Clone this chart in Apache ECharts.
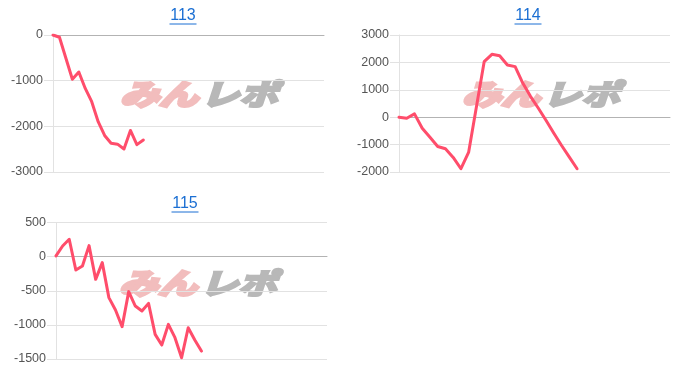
<!DOCTYPE html>
<html>
<head>
<meta charset="utf-8">
<script src="https://cdn.jsdelivr.net/npm/echarts@6/dist/echarts.min.js"></script>
<style>
html,body{margin:0;padding:0;background:#fff;}
#c{width:700px;height:376px;}
</style>
</head>
<body>
<div id="c"></div>
<script>
// chart titles
const titles = ['113', '114', '115'];
// number of x categories per chart
const catCount113 = 43;
const catCount114 = 36;
const catCount115 = 42;
// series values
const s113 = [0, -50, -510, -970, -810, -1170, -1460, -1898, -2200, -2372, -2390, -2496, -2090, -2400, -2299];
const s114 = [0, -36, 121, -400, -728, -1068, -1153, -1468, -1881, -1274, 380, 2027, 2294, 2245, 1905, 1845, 1238, 752, 328, -121, -583, -1032, -1456, -1881];
const s115 = [10, 156, 254, -196, -137, 161, -333, -88, -601, -782, -1027, -513, -724, -797, -685, -1139, -1296, -993, -1188, -1482, -1042, -1222, -1384];
// y axis ranges
const yMin = [-3000, -2000, -1500];
const yMax = [0, 3000, 500];
const yStep = [1000, 1000, 500];

function cats(n){ return Array.from({length:n}, (_, i) => String(i + 1)); }

const grids = [
  {left: 53, top: 35, width: 271, height: 137},
  {left: 399, top: 35, width: 271, height: 137},
  {left: 56, top: 222.5, width: 271, height: 136.5}
];
const allCats = [cats(catCount113), cats(catCount114), cats(catCount115)];
const allSeries = [s113, s114, s115];

const labelFont = {color: '#555', fontSize: 12.5, fontFamily: '"Liberation Sans", Arial, sans-serif'};

const xAxes = grids.map((g, i) => ({
  type: 'category', gridIndex: i, data: allCats[i], boundaryGap: false,
  axisLine: {show: true, onZero: true, lineStyle: {color: '#b3b3b3', width: 1}},
  axisTick: {show: false}, axisLabel: {show: false}, splitLine: {show: false}
}));
const yAxes = grids.map((g, i) => ({
  type: 'value', gridIndex: i, min: yMin[i], max: yMax[i], interval: yStep[i],
  axisLine: {show: true, lineStyle: {color: '#e2e2e2'}},
  axisTick: {show: true, length: 9, lineStyle: {color: '#e2e2e2'}},
  axisLabel: Object.assign({margin: 10, formatter: v => String(v)}, labelFont),
  splitLine: {show: true, lineStyle: {color: '#e2e2e2', width: 1}}
}));
const series = allSeries.map((d, i) => ({
  type: 'line', xAxisIndex: i, yAxisIndex: i, data: d,
  showSymbol: false, symbol: 'none', smooth: false, z: 5,
  lineStyle: {color: '#ff4d6b', width: 3, join: 'round', cap: 'round'},
  animation: false
}));

// titles + underline + watermarks
const titlePos = [[183, 16], [528, 16], [185, 204]];
const wmPos = [[120, 94], [462, 94], [119, 283]];
const graphic = [];
titlePos.forEach((p, i) => {
  graphic.push({type: 'text', x: p[0], y: p[1], z: 10,
    style: {text: titles[i], fill: '#1b6fd3', fontSize: 16, fontFamily: '"Liberation Sans", Arial, sans-serif', align: 'center', verticalAlign: 'middle'}});
  graphic.push({type: 'line', z: 10, shape: {x1: p[0] - 13.5, y1: p[1] + 8, x2: p[0] + 13.5, y2: p[1] + 8},
    style: {stroke: '#1b6fd3', lineWidth: 1}});
});
wmPos.forEach(p => {
  graphic.push({type: 'text', x: p[0], y: p[1], z: -1, scaleX: 1.22, scaleY: 0.9,
    style: {text: 'みん', fill: '#f2bdbd', stroke: '#f2bdbd', lineWidth: 3.5, fontSize: 32, fontWeight: 'bold', fontStyle: 'italic', fontFamily: '"Noto Sans CJK JP"', align: 'left', verticalAlign: 'middle'}});
  graphic.push({type: 'text', x: p[0] + 81, y: p[1], z: -1, scaleX: 1.2, scaleY: 0.9,
    style: {text: 'レポ', fill: '#b8b8b8', stroke: '#b8b8b8', lineWidth: 3, fontSize: 32, fontWeight: 'bold', fontStyle: 'italic', fontFamily: '"Noto Sans CJK JP"', align: 'left', verticalAlign: 'middle'}});
});

const chart = echarts.init(document.getElementById('c'), null, {renderer: 'canvas'});
chart.setOption({
  animation: false,
  backgroundColor: '#fff',
  grid: grids,
  xAxis: xAxes,
  yAxis: yAxes,
  series: series,
  graphic: graphic
});
</script>
</body>
</html>
